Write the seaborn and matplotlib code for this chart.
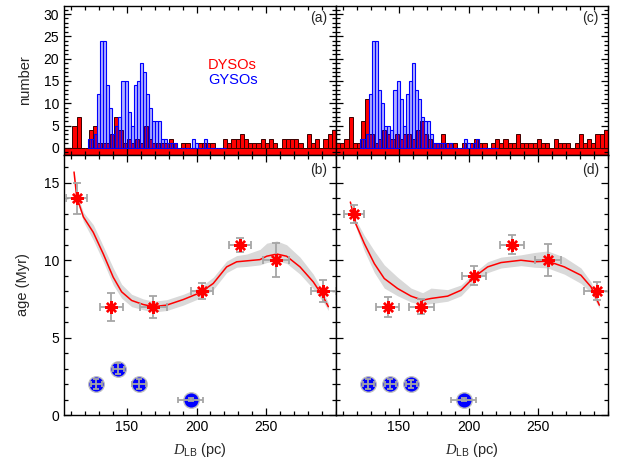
import numpy as np
import pandas as pd
import matplotlib
matplotlib.use("Agg")
import matplotlib.pyplot as plt
from matplotlib.ticker import MultipleLocator, FixedLocator
import seaborn as sns

# ---------------- histogram data (counts per bin) ----------------
# DYSOs: 3 pc bins from 105 to 300 pc
dyso_edges = np.arange(105.0, 300.1, 3.0)
dyso_counts_a = [0, 0, 5, 7, 0, 0, 4, 5, 1, 1, 1, 3, 7, 4, 1, 2, 1, 2, 1, 5,
                 2, 1, 1, 1, 1, 2, 1, 0, 1, 1, 0, 0, 1, 1, 1, 1, 0, 0, 2, 1,
                 2, 2, 3, 2, 1, 1, 1, 2, 1, 2, 1, 0, 2, 2, 2, 2, 1, 0, 3, 1,
                 2, 0, 2, 3, 4]
dyso_counts_c = [1, 1, 2, 7, 1, 1, 6, 11, 3, 1, 2, 4, 3, 2, 3, 2, 3, 3, 2, 4,
                 6, 3, 2, 1, 1, 3, 1, 1, 1, 0, 1, 0, 1, 2, 1, 1, 0, 1, 2, 1,
                 2, 1, 1, 3, 1, 1, 1, 1, 2, 1, 1, 0, 2, 1, 1, 1, 0, 1, 3, 1,
                 2, 1, 3, 3, 4]

# GYSOs: 2.2 pc bins from 122 to 221 pc
gyso_edges = 122.0 + 2.2 * np.arange(46)
gyso_counts_a = [2, 2, 3, 12, 24, 24, 14, 9, 3, 5, 7, 15, 15, 8, 5, 14, 15, 19,
                 17, 12, 9, 6, 6, 6, 2, 2, 1, 1, 1, 0, 0, 0, 0, 0, 2, 1, 0, 0,
                 2, 0, 0, 0, 0, 0, 0]
gyso_counts_c = [2, 2, 3, 12, 24, 24, 13, 10, 5, 5, 4, 13, 15, 11, 5, 12, 15, 19,
                 13, 11, 7, 6, 6, 3, 1, 1, 1, 1, 0, 1, 0, 0, 0, 0, 2, 1, 0, 1,
                 2, 0, 0, 0, 0, 0, 0]

# ---------------- age vs distance ----------------
dyso_d_b = [114, 139, 169, 204, 231, 257, 291]
dyso_age_b = [14, 7, 7, 8, 11, 10, 8]
dyso_derr_b = [7.4, 8, 9.5, 8, 8, 9.5, 9]
dyso_aerr_b = [1.0, 0.9, 0.7, 0.5, 0.45, 1.1, 0.7]

dyso_d_d = [118, 142, 166, 204, 231, 257, 292]
dyso_age_d = [13, 7, 7, 9, 11, 10, 8]
dyso_derr_d = [7.4, 8, 9, 8.6, 8.7, 9, 9.5]
dyso_aerr_d = [0.6, 0.65, 0.5, 0.6, 0.6, 1.05, 0.6]

gyso_d_b = [128, 144, 159, 196]
gyso_age_b = [2, 3, 2, 1]
gyso_derr_b = [4, 4, 5, 9]
gyso_aerr_b = [0.3, 0.35, 0.3, 0.1]

gyso_d_d = [128, 144, 159, 196.5]
gyso_age_d = [2, 2, 2, 1]
gyso_derr_d = [4, 4, 4, 9]
gyso_aerr_d = [0.3, 0.3, 0.25, 0.1]

# smoothed trend with confidence band
fit_d_b = [112.2, 114.1, 118.9, 126.0, 133.2, 140.3, 146.3, 153.5, 161.8, 169.0,
           178.6, 190.5, 202.5, 212.0, 221.6, 228.8, 236.0, 245.5, 250.3, 257.5,
           264.6, 274.2, 283.7, 290.9, 294.5]
fit_age_b = [15.7, 14.1, 12.8, 11.8, 10.4, 8.9, 7.96, 7.4, 7.14, 7.0,
             7.1, 7.46, 7.9, 8.5, 9.57, 9.9, 9.96, 10.04, 10.26, 10.4,
             10.26, 9.57, 8.6, 7.63, 7.0]
fit_hi_b = [15.8, 14.3, 13.1, 12.3, 10.9, 9.5, 8.45, 7.8, 7.5, 7.35,
            7.45, 7.8, 8.25, 8.9, 9.95, 10.3, 10.4, 10.7, 11.1, 11.25,
            11.0, 10.2, 9.1, 7.95, 7.25]
fit_lo_b = [15.6, 13.9, 12.5, 11.3, 9.9, 8.4, 7.55, 7.0, 6.8, 6.65,
            6.75, 7.1, 7.55, 8.1, 9.2, 9.55, 9.6, 9.7, 9.85, 9.95,
            9.8, 9.1, 8.15, 7.3, 6.75]

fit_d_d = [115.3, 118.6, 125.3, 132.5, 139.6, 149.2, 158.8, 167.1, 173.1, 185.0,
           194.6, 204.1, 213.7, 223.3, 237.6, 247.2, 256.7, 268.7, 280.6, 287.8, 293.8]
fit_age_d = [13.76, 12.47, 11.08, 9.78, 8.82, 8.17, 7.68, 7.42, 7.53, 7.68,
             8.06, 8.92, 9.57, 9.85, 10.0, 9.9, 9.94, 9.57, 9.03, 8.28, 7.1]
fit_hi_d = [13.8, 12.7, 11.6, 10.6, 9.7, 8.9, 8.2, 7.9, 8.2, 8.1,
            8.4, 9.2, 9.9, 10.2, 10.35, 10.5, 10.6, 10.2, 9.5, 8.6, 7.3]
fit_lo_d = [13.7, 12.3, 10.6, 9.2, 8.2, 7.7, 7.3, 7.1, 7.2, 7.35,
            7.7, 8.6, 9.2, 9.5, 9.65, 9.55, 9.5, 9.1, 8.5, 7.9, 6.9]

# ---------------- style ----------------
sns.set_theme(style="ticks")
plt.rcParams["font.family"] = ["Liberation Sans", "DejaVu Sans"]
plt.rcParams["mathtext.fontset"] = "custom"
plt.rcParams["mathtext.it"] = "Liberation Serif:italic"
plt.rcParams["mathtext.rm"] = "Liberation Sans"
plt.rcParams["axes.linewidth"] = 1.0
plt.rcParams["axes.edgecolor"] = "black"

RED = "#ff0000"
BLUE = "#0000ff"
GREY = "#a6a6a6"
BAND = "#d9d9d9"
XLIM = (105, 300)
HIST_YLIM = (-1.6, 31.8)
AGE_YLIM = (0, 16.8)

fig = plt.figure(figsize=(6.19, 4.73), dpi=100)
L0, W = 64 / 619, 272 / 619
top_y0, top_h = 1 - 155 / 473, 149 / 473
bot_y0, bot_h = 1 - 415 / 473, 260 / 473


def style_axis(ax, ymajor, yminor):
    ax.set_xlim(*XLIM)
    ax.xaxis.set_major_locator(FixedLocator([150, 200, 250]))
    ax.xaxis.set_minor_locator(MultipleLocator(10))
    ax.yaxis.set_major_locator(MultipleLocator(ymajor))
    ax.yaxis.set_minor_locator(MultipleLocator(yminor))
    ax.tick_params(which="both", direction="in", top=True, right=True,
                   colors="black", labelsize=10, width=0.9)
    ax.tick_params(which="major", length=5)
    ax.tick_params(which="minor", length=2.8)
    for s in ax.spines.values():
        s.set_visible(True)
        s.set_color("black")
    ax.set_xlabel("")
    ax.set_ylabel("")


def binned_sample(edges, counts):
    """One distance value per object, placed at its bin centre."""
    centres = 0.5 * (edges[:-1] + edges[1:])
    return pd.DataFrame({"dist": np.repeat(centres, counts)})


def draw_hist(ax, red_counts, blue_counts, tag, show_text):
    ax.axhspan(HIST_YLIM[0], 0, color=RED, lw=0, zorder=0)
    sns.histplot(data=binned_sample(dyso_edges, red_counts), x="dist",
                 bins=list(dyso_edges), ax=ax, element="bars", fill=True,
                 color=RED, alpha=1.0, edgecolor="#3a0000", linewidth=0.7,
                 zorder=1)
    n_red = len(ax.patches)
    sns.histplot(data=binned_sample(gyso_edges, blue_counts), x="dist",
                 bins=list(gyso_edges), ax=ax, element="bars", fill=True,
                 color=BLUE, zorder=2)
    for p in ax.patches[n_red:]:
        p.set_alpha(None)
        p.set_facecolor((0.0, 0.0, 1.0, 0.3))
        p.set_edgecolor(BLUE)
        p.set_linewidth(0.8)
    ax.set_ylim(*HIST_YLIM)
    style_axis(ax, 5, 1)
    ax.tick_params(labelbottom=False)
    ax.text(0.935, 0.92, tag, transform=ax.transAxes, ha="center", va="center",
            fontsize=10)
    if show_text:
        ax.text(0.62, 0.604, "DYSOs", color=RED, transform=ax.transAxes,
                ha="center", va="center", fontsize=10.5)
        ax.text(0.62, 0.503, "GYSOs", color=BLUE, transform=ax.transAxes,
                ha="center", va="center", fontsize=10.5)


def draw_age(ax, fx, fy, flo, fhi, rx, ry, rxe, rye, bx, by, bxe, bye, tag):
    ax.fill_between(fx, flo, fhi, color=BAND, lw=0, zorder=1)
    sns.lineplot(x=fx, y=fy, ax=ax, color=RED, linewidth=1.1, sort=False,
                 zorder=2)
    sns.scatterplot(x=bx, y=by, ax=ax, marker="o", s=125, color=BLUE,
                    edgecolor="#c0c0c0", linewidth=1.0, zorder=3)
    ax.errorbar(bx, by, xerr=bxe, yerr=bye, fmt="none", ecolor=GREY,
                elinewidth=1.3, capsize=2.5, capthick=1.3, zorder=4)
    ax.errorbar(rx, ry, xerr=rxe, yerr=rye, fmt="none", ecolor=GREY,
                elinewidth=1.3, capsize=3, capthick=1.3, zorder=4)
    ax.plot(rx, ry, linestyle="none", marker=(8, 2, 0), markersize=9,
            markeredgewidth=1.7, color=RED, zorder=5)
    ax.set_ylim(*AGE_YLIM)
    style_axis(ax, 5, 1)
    ax.text(0.935, 0.942, tag, transform=ax.transAxes, ha="center", va="center",
            fontsize=10)
    ax.set_xlabel(r"$D_{\rm LB}$ (pc)", fontsize=10.5, labelpad=5)


ax_a = fig.add_axes([L0, top_y0, W, top_h])
ax_c = fig.add_axes([L0 + W, top_y0, W, top_h])
ax_b = fig.add_axes([L0, bot_y0, W, bot_h])
ax_d = fig.add_axes([L0 + W, bot_y0, W, bot_h])

draw_hist(ax_a, dyso_counts_a, gyso_counts_a, "(a)", True)
draw_hist(ax_c, dyso_counts_c, gyso_counts_c, "(c)", False)
draw_age(ax_b, fit_d_b, fit_age_b, fit_lo_b, fit_hi_b,
         dyso_d_b, dyso_age_b, dyso_derr_b, dyso_aerr_b,
         gyso_d_b, gyso_age_b, gyso_derr_b, gyso_aerr_b, "(b)")
draw_age(ax_d, fit_d_d, fit_age_d, fit_lo_d, fit_hi_d,
         dyso_d_d, dyso_age_d, dyso_derr_d, dyso_aerr_d,
         gyso_d_d, gyso_age_d, gyso_derr_d, gyso_aerr_d, "(d)")

ax_c.tick_params(labelleft=False)
ax_d.tick_params(labelleft=False)
ax_a.set_ylabel("number", fontsize=10.5, labelpad=8)
ax_b.set_ylabel("age (Myr)", fontsize=10.5, labelpad=10)

fig.savefig("out.png", dpi=100)
